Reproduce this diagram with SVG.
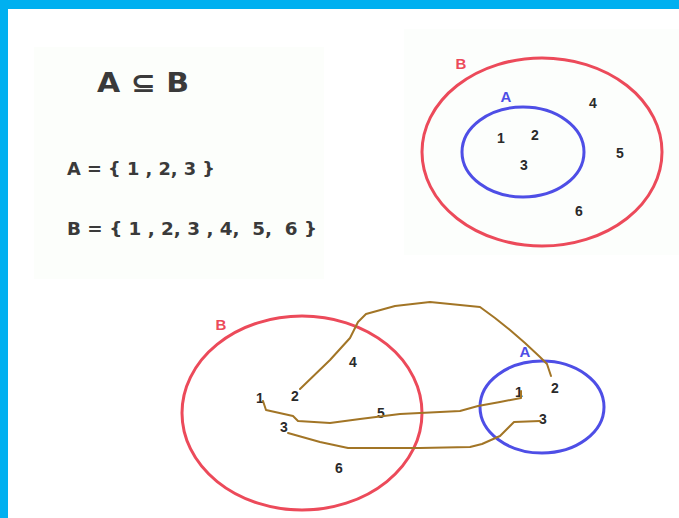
<svg xmlns="http://www.w3.org/2000/svg" width="679" height="518" viewBox="0 0 679 518">
<style>
.t{font-family:"DejaVu Sans","Liberation Sans",Arial,sans-serif;font-weight:bold;fill:#3a3a3a}
.n{font-family:"Liberation Sans",Arial,sans-serif;font-weight:bold;font-size:14px;fill:#2a2a2a;text-anchor:middle}
.lb{font-family:"Liberation Sans",Arial,sans-serif;font-weight:bold;font-size:15px;text-anchor:middle}
.red{fill:none;stroke:#EC4A5A;stroke-width:3}
.blue{fill:none;stroke:#4E4EE6;stroke-width:3}
.ln{fill:none;stroke:#A27526;stroke-width:2;stroke-linejoin:round;stroke-linecap:round}
</style>
<rect x="0" y="0" width="679" height="518" fill="#ffffff"/>
<rect x="0" y="0" width="679" height="9" fill="#00B0F0"/>
<rect x="0" y="0" width="8" height="518" fill="#00B0F0"/>
<rect x="34" y="47" width="290" height="232" fill="#FCFEFB"/>
<rect x="404" y="29" width="275" height="226" fill="#FCFEFC"/>
<g id="definition">
<text class="t" x="97" y="92" font-size="27" fill="#555" textLength="92" lengthAdjust="spacingAndGlyphs">A ⊆ B</text>
<text class="t" x="67" y="175" font-size="18" textLength="148" lengthAdjust="spacingAndGlyphs">A = { 1 , 2, 3 }</text>
<text class="t" x="67" y="235" font-size="18" textLength="250" lengthAdjust="spacingAndGlyphs" xml:space="preserve">B = { 1 , 2, 3 , 4,  5,  6 }</text>
</g>
<g id="venn-top-B">
<ellipse class="red" cx="542" cy="152" rx="120" ry="94"/>
<text class="lb" x="461" y="69" fill="#EC4A5A">B</text>
<text class="n" x="593" y="108">4</text>
<text class="n" x="620" y="158">5</text>
<text class="n" x="579" y="216">6</text>
</g>
<g id="venn-top-A">
<ellipse class="blue" cx="523" cy="152" rx="61" ry="45"/>
<text class="lb" x="506" y="102" fill="#4E4EE6">A</text>
<text class="n" x="501" y="143">1</text>
<text class="n" x="535" y="140">2</text>
<text class="n" x="524" y="170">3</text>
</g>
<g id="venn-bottom-B">
<ellipse class="red" cx="302" cy="413" rx="120" ry="97"/>
<text class="lb" x="221" y="330" fill="#EC4A5A">B</text>
<text class="n" x="260" y="403">1</text>
<text class="n" x="295" y="401">2</text>
<text class="n" x="284" y="432">3</text>
<text class="n" x="353" y="367">4</text>
<text class="n" x="381" y="418">5</text>
<text class="n" x="339" y="473">6</text>
</g>
<g id="venn-bottom-A">
<ellipse class="blue" cx="542" cy="407" rx="62" ry="46"/>
<text class="lb" x="525" y="357" fill="#4E4EE6">A</text>
<text class="n" x="519" y="397">1</text>
<text class="n" x="555" y="393">2</text>
<text class="n" x="543" y="424">3</text>
</g>
<g id="connectors">
<path class="ln" d="M300,389 L330,360 L350,338 L358,322 L366,314 L395,306 L430,302 L460,305 L480,307 L495,318 L510,330 L525,343 L540,357 L547,364 L551,376"/>
<path class="ln" d="M263,401 L266,410 L293,416 L298,421 L330,423 L360,419 L400,414 L440,412 L460,411 L478,406 L500,402 L521,398 L521,391"/>
<path class="ln" d="M288,433 L320,442 L348,448 L420,448 L470,447 L482,444 L500,436 L514,422 L540,421"/>
</g>
</svg>
